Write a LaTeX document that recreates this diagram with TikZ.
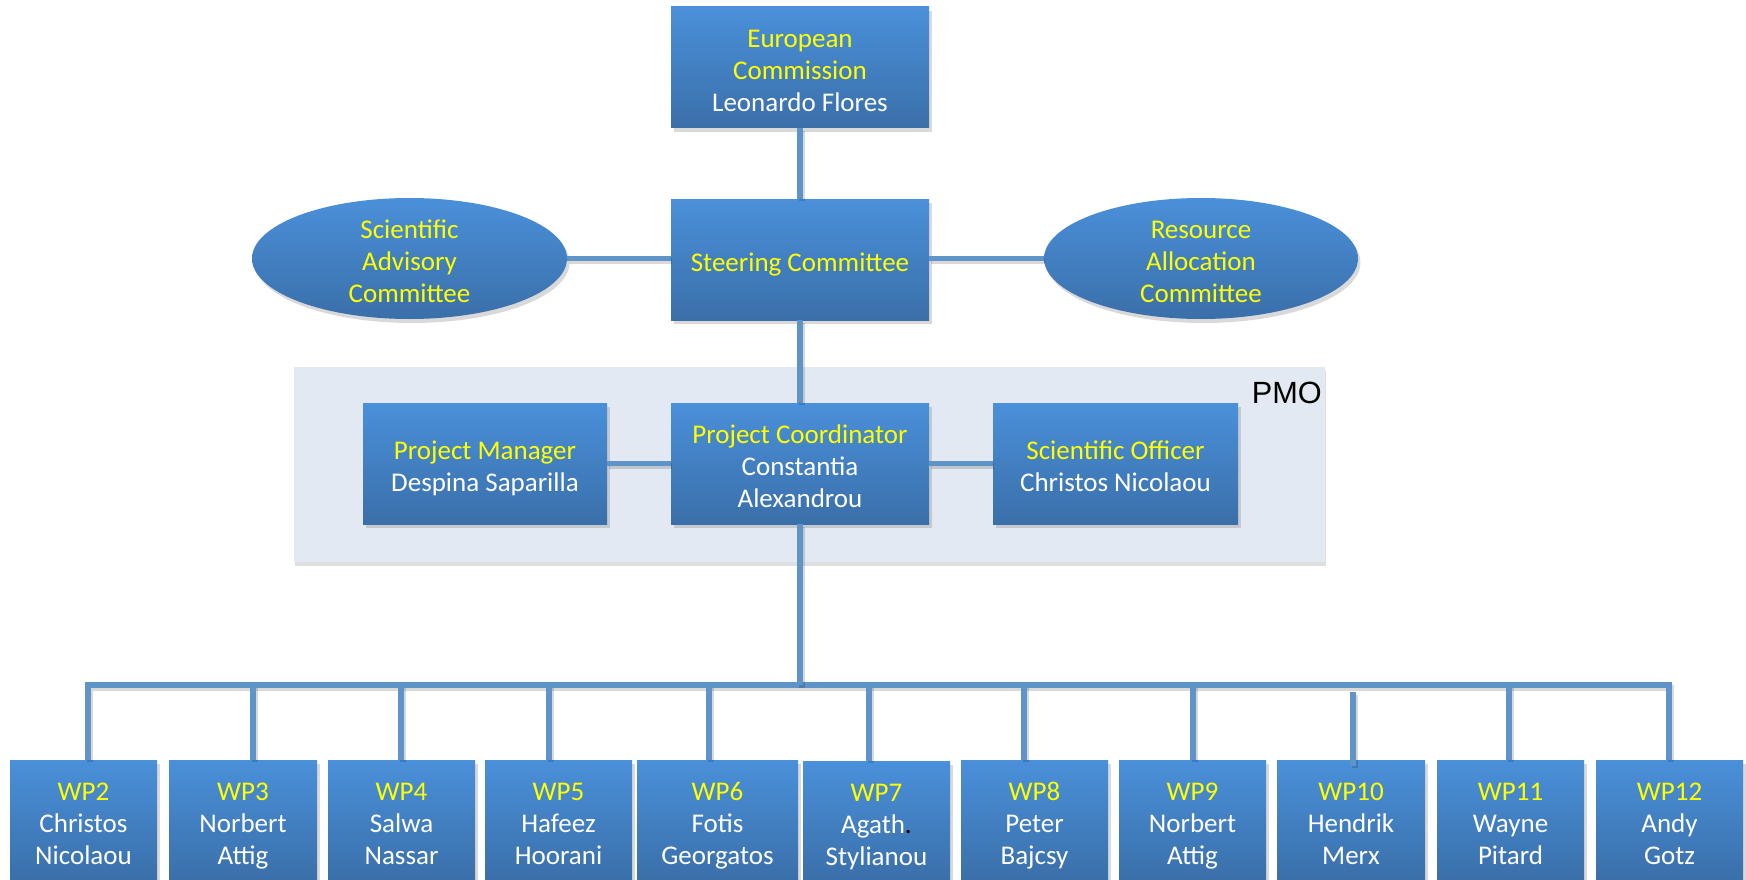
\documentclass[tikz,border=0pt]{standalone}
\usepackage{fontspec}
\setmainfont{Carlito}
\newfontfamily\pmofont{Liberation Sans}
\usetikzlibrary{shapes.geometric,shadows}
\definecolor{boxtop}{HTML}{4A90DA}
\definecolor{boxbot}{HTML}{3A6FA9}
\definecolor{linec}{HTML}{5F94C9}
\definecolor{pmobg}{HTML}{E2E9F3}
\definecolor{yel}{HTML}{FFFF00}
\newcommand\Y[1]{\textcolor{yel}{\rule{0pt}{31pt}#1}}
\begin{document}
\begin{tikzpicture}[x=1pt,y=-1pt,
  box/.style={rectangle, top color=boxtop, bottom color=boxbot, draw=none,
    text=white, align=center, inner sep=0pt, minimum height=121pt,
    text depth=7pt,
    font=\fontsize{27}{32}\selectfont,
    drop shadow={shadow xshift=2.5pt, shadow yshift=-4pt, opacity=0.3}},
  oval/.style={box, ellipse, inner sep=-12pt},
  pmobox/.style={rectangle, fill=pmobg, draw=none, inner sep=0pt,
    drop shadow={shadow xshift=1pt, shadow yshift=-4pt, opacity=0.25}},
  pmotext/.style={font=\pmofont\fontsize{30.7}{36}\selectfont, text=black, inner sep=0pt},
  conn/.style={draw=linec, line width=5.5pt,
    preaction={draw=black, opacity=0.15, line width=6pt,
      transform canvas={xshift=1.5pt, yshift=-2.5pt}}},
]
\useasboundingbox (0,0) rectangle (1746,880);

% PMO background
\node[pmobox, minimum width=1031pt, minimum height=195pt] (pmo) at (809.5,464.5) {};
\node[pmotext, anchor=base east] (pmol) at (1322,403) {PMO};

% top levels
\node[box, minimum width=258pt] (ec) at (800,67.5) {\Y{European}\\\textcolor{yel}{Commission}\\Leonardo Flores};
\node[box, minimum width=258pt] (sc) at (800,259.5) {\Y{Steering Committee}};
\node[oval, minimum width=315pt, minimum height=121pt] (sac) at (409.5,258.5) {\Y{Scientific}\\\textcolor{yel}{Advisory}\\\textcolor{yel}{Committee}};
\node[oval, minimum width=314pt, minimum height=121pt] (rac) at (1201,258.5) {\Y{Resource}\\\textcolor{yel}{Allocation}\\\textcolor{yel}{Committee}};

% PMO row
\node[box, minimum width=244pt] (pm) at (485,463.5) {\Y{Project Manager}\\Despina Saparilla};
\node[box, minimum width=258pt] (pc) at (800,463.5) {\Y{Project Coordinator}\\Constantia\\Alexandrou};
\node[box, minimum width=245pt] (so) at (1115.5,463.5) {\Y{Scientific Officer}\\Christos Nicolaou};

% work packages
\node[box, minimum width=147pt] (wp2) at (83.5,820.5) {\Y{WP2}\\Christos\\Nicolaou};
\node[box, minimum width=148pt] (wp3) at (243,820.5) {\Y{WP3}\\Norbert\\Attig};
\node[box, minimum width=147pt] (wp4) at (401.5,820.5) {\Y{WP4}\\Salwa\\Nassar};
\node[box, minimum width=147pt] (wp5) at (558.5,820.5) {\Y{WP5}\\Hafeez\\Hoorani};
\node[box, minimum width=161pt] (wp6) at (717.5,820.5) {\Y{WP6}\\Fotis\\Georgatos};
\node[box, minimum width=147pt] (wp7) at (876.5,821.5) {\Y{WP7}\\Agath\textcolor{black}{.}\\Stylianou};
\node[box, minimum width=147pt] (wp8) at (1034.5,820.5) {\Y{WP8}\\Peter\\Bajcsy};
\node[box, minimum width=147pt] (wp9) at (1192.5,820.5) {\Y{WP9}\\Norbert\\Attig};
\node[box, minimum width=148pt] (wp10) at (1351,820.5) {\Y{WP10}\\Hendrik\\Merx};
\node[box, minimum width=147pt] (wp11) at (1510.5,820.5) {\Y{WP11}\\Wayne\\Pitard};
\node[box, minimum width=147pt] (wp12) at (1669.5,820.5) {\Y{WP12}\\Andy\\Gotz};

% connectors
\draw[conn] (ec.south) -- (sc.north);
\draw[conn] (sc.south) -- (pc.north);
\draw[conn] (sac.east) -- (sac.east -| sc.west);
\draw[conn] (rac.west) -- (rac.west -| sc.east);
\draw[conn] (pm.east) -- (pc.west);
\draw[conn] (so.west) -- (pc.east);

\coordinate (bL) at (88,685);
\coordinate (bR) at (1669,685);
\draw[conn] (bL |- wp2.north) -- (bL) -- (bR) -- (bR |- wp12.north);
\draw[conn] (pc.south) -- (pc.south |- bL);
\foreach \n/\x in {3/253,4/401,5/549,6/709,7/869,8/1024,9/1193,11/1509}{
  \coordinate (d\n) at (\x,685);
  \draw[conn] (d\n) -- (d\n |- wp\n.north);
}
\coordinate (d10) at (1353,692);
\draw[conn] (d10) -- ([yshift=-6pt]d10 |- wp10.north);
\end{tikzpicture}
\end{document}
